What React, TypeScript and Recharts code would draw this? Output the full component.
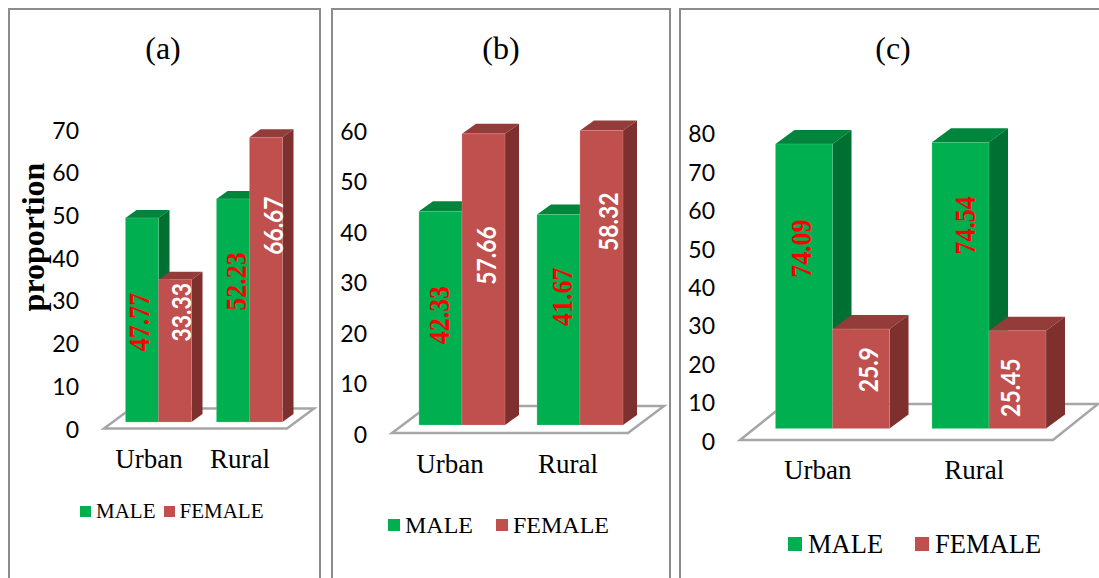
import { Bar, BarChart, LabelList, Legend, XAxis, YAxis } from "recharts";

const categories = ["Urban", "Rural"];
const maleA = [47.77, 52.23];
const femaleA = [33.33, 66.67];
const maleB = [42.33, 41.67];
const femaleB = [57.66, 58.32];
const maleC = [74.09, 74.54];
const femaleC = [25.9, 25.45];
const ticksA = [0, 10, 20, 30, 40, 50, 60, 70];
const ticksB = [0, 10, 20, 30, 40, 50, 60];
const ticksC = [0, 10, 20, 30, 40, 50, 60, 70, 80];

const GREEN = "#00B050";
const RED = "#C0504D";
const SERIF = '"Liberation Serif", serif';
const SANS = "Lato, sans-serif";

const shades: Record<string, { top: string; side: string; edge: string }> = {
  [GREEN]: { top: "#00853C", side: "#006F32", edge: "#7FD8A8" },
  [RED]: { top: "#933C3A", side: "#7D302E", edge: "#DFA8A6" },
};

const toRows = (male: number[], female: number[]) =>
  categories.map((name, i) => ({ name, male: male[i], female: female[i] }));

const panels = [
  {
    title: "(a)", titleX: 163, left: 8, width: 312,
    rows: toRows(maleA, femaleA), ticks: ticksA, max: 70,
    plotLeft: 112.5, plotRight: 294.5, plotTop: 123, base: 422,
    barSize: 33, depth: [11, 8], tickRight: 79, tickOffset: 6.5, tickFont: 23,
    catDx: -9, catY: 459, catFont: 27,
    floor: { l: 104, r: 287, y: 428.5, dx: 27, dy: 20 },
    legend: { left: 80, cy: 511, font: 21, square: 11, textGap: 5, itemGap: 8 },
    maleNudge: [[-3.5, 2], [3, -29]],
    femaleNudge: [[5.5, -38.5], [6.5, -54]],
    yTitle: true,
  },
  {
    title: "(b)", titleX: 501, left: 332, width: 338,
    rows: toRows(maleB, femaleB), ticks: ticksB, max: 60,
    plotLeft: 403, plotRight: 639, plotTop: 122, base: 425,
    barSize: 43, depth: [14, 10], tickRight: 367, tickOffset: 8.8, tickFont: 23,
    catDx: -12, catY: 464, catFont: 27,
    floor: { l: 392, r: 628, y: 433, dx: 36, dy: 27 },
    legend: { left: 388, cy: 525, font: 24, square: 12, textGap: 5, itemGap: 23 },
    maleNudge: [[-2, -3], [3, -23]],
    femaleNudge: [[2.5, -24], [6.5, -56]],
    yTitle: false,
  },
  {
    title: "(c)", titleX: 893, left: 680, width: 419,
    rows: toRows(maleC, femaleC), ticks: ticksC, max: 80,
    plotLeft: 754.5, plotRight: 1067.5, plotTop: 121.3, base: 428.5,
    barSize: 57, depth: [19, 14], tickRight: 715, tickOffset: 12, tickFont: 23,
    catDx: -15, catY: 470, catFont: 27,
    floor: { l: 740, r: 1053, y: 440, dx: 45, dy: 36 },
    legend: { left: 788, cy: 544, font: 26.5, square: 14, textGap: 6, itemGap: 32 },
    maleNudge: [[-2.6, -37.6], [4.5, -60]],
    femaleNudge: [[6.7, -9], [-8, 8]],
    yTitle: false,
  },
];

function Bar3D(props: any) {
  const { x, y, width, height, fill, depth } = props;
  const [dx, dy] = depth;
  const c = shades[fill];
  const r = x + width;
  const b = y + height;
  return (
    <g>
      <polygon points={`${x},${y} ${x + dx},${y - dy} ${r + dx},${y - dy} ${r},${y}`} fill={c.top} />
      <polygon points={`${r},${y} ${r + dx},${y - dy} ${r + dx},${b - dy} ${r},${b}`} fill={c.side} />
      <rect x={x} y={y} width={width} height={height} fill={fill} stroke={c.edge} strokeWidth={0.6} strokeOpacity={0.5} />
    </g>
  );
}

// the source labels are squeezed along their length, so scale them after rotating
function ValueLabel(props: any) {
  const { x, y, width, height, value, index, nudge, color, family, size, squeeze } = props;
  const cx = x + width / 2 + nudge[index][0];
  const cy = y + height / 2 + nudge[index][1];
  return (
    <text
      transform={`translate(${cx} ${cy}) rotate(-90) scale(${squeeze} 1)`}
      textAnchor="middle"
      dominantBaseline="central"
      fill={color}
      style={{ fontFamily: family, fontSize: size, fontWeight: 700 }}
    >
      {value}
    </text>
  );
}

function Panel({ p }: { p: (typeof panels)[number] }) {
  const f = p.floor;
  const o = p.left;
  return (
    <div style={{ position: "absolute", left: p.left, top: 0 }}>
      <BarChart
        width={p.width}
        height={578}
        data={p.rows}
        barSize={p.barSize}
        barGap={0}
        margin={{ left: 0, right: p.left + p.width - p.plotRight, top: p.plotTop, bottom: 578 - p.base - 70 }}
      >
        <polygon
          points={`${f.l - o},${f.y} ${f.r - o},${f.y} ${f.r + f.dx - o},${f.y - f.dy} ${f.l + f.dx - o},${f.y - f.dy}`}
          fill="#fff"
          stroke="#A6A6A6"
          strokeWidth={2.5}
        />
        <XAxis
          dataKey="name"
          axisLine={false}
          tickLine={false}
          height={70}
          tick={(t: any) => (
            <text
              x={t.x + p.catDx}
              y={p.catY}
              textAnchor="middle"
              dominantBaseline="central"
              fontFamily={SERIF}
              fontSize={p.catFont}
              fill="#000"
            >
              {t.payload.value}
            </text>
          )}
        />
        <YAxis
          width={p.plotLeft - p.left}
          domain={[0, p.max]}
          ticks={p.ticks}
          interval={0}
          axisLine={false}
          tickLine={false}
          tick={(t: any) => (
            <text
              x={p.tickRight - o}
              y={t.y + p.tickOffset}
              textAnchor="end"
              dominantBaseline="central"
              fontFamily={SANS}
              fontSize={p.tickFont}
              fill="#000"
            >
              {t.payload.value}
            </text>
          )}
          label={
            p.yTitle
              ? () => (
                  <text
                    x={44 - o}
                    y={237}
                    transform={`rotate(-90 ${44 - o} 237)`}
                    textAnchor="middle"
                    fontFamily={SERIF}
                    fontSize={32}
                    fontWeight="bold"
                    fill="#000"
                  >
                    proportion
                  </text>
                )
              : undefined
          }
        />
        <Legend
          layout="horizontal"
          align="center"
          verticalAlign="middle"
          itemSorter={null}
          wrapperStyle={{ left: p.legend.left - o, top: p.legend.cy - 20, width: 400, height: 40 }}
          content={(lp: any) => (
            <div style={{ display: "flex", alignItems: "center", height: 40, fontFamily: SERIF, fontSize: p.legend.font, color: "#000" }}>
              {lp.payload.map((e: any) => (
                <div key={e.value} style={{ display: "flex", alignItems: "center", marginRight: p.legend.itemGap }}>
                  <span style={{ width: p.legend.square, height: p.legend.square, background: e.color, marginRight: p.legend.textGap }} />
                  {e.value}
                </div>
              ))}
            </div>
          )}
        />
        <Bar
          dataKey="male"
          name="MALE"
          fill={GREEN}
          isAnimationActive={false}
          shape={(s: any) => <Bar3D {...s} depth={p.depth} />}
        >
          <LabelList
            dataKey="male"
            content={(l: any) => <ValueLabel {...l} nudge={p.maleNudge} color="#FF0000" family={SERIF} size={29.5} squeeze={0.88} />}
          />
        </Bar>
        <Bar
          dataKey="female"
          name="FEMALE"
          fill={RED}
          isAnimationActive={false}
          shape={(s: any) => <Bar3D {...s} depth={p.depth} />}
        >
          <LabelList
            dataKey="female"
            content={(l: any) => <ValueLabel {...l} nudge={p.femaleNudge} color="#FFFFFF" family={SANS} size={26} squeeze={0.88} />}
          />
        </Bar>
      </BarChart>
    </div>
  );
}

function Frame({ left, width, open }: { left: number; width: number; open?: boolean }) {
  return (
    <div
      style={{
        position: "absolute",
        left,
        top: 8,
        width,
        height: 580,
        boxSizing: "border-box",
        borderTop: "2px solid #8C8C8C",
        borderLeft: "2px solid #8C8C8C",
        borderRight: open ? "none" : "2px solid #8C8C8C",
      }}
    />
  );
}

export default function App() {
  return (
    <div style={{ position: "absolute", left: 0, top: 0, width: 1099, height: 578, overflow: "hidden", background: "#fff" }}>
      <Frame left={8} width={313} />
      <Frame left={331} width={340} />
      <Frame left={679} width={420} open />
      {panels.map((p) => (
        <div key={p.title}>
          <div
            style={{
              position: "absolute",
              left: p.titleX - 40,
              width: 80,
              top: 30,
              textAlign: "center",
              fontFamily: SERIF,
              fontSize: 32,
              lineHeight: "36px",
              color: "#000",
            }}
          >
            {p.title}
          </div>
          <Panel p={p} />
        </div>
      ))}
    </div>
  );
}
